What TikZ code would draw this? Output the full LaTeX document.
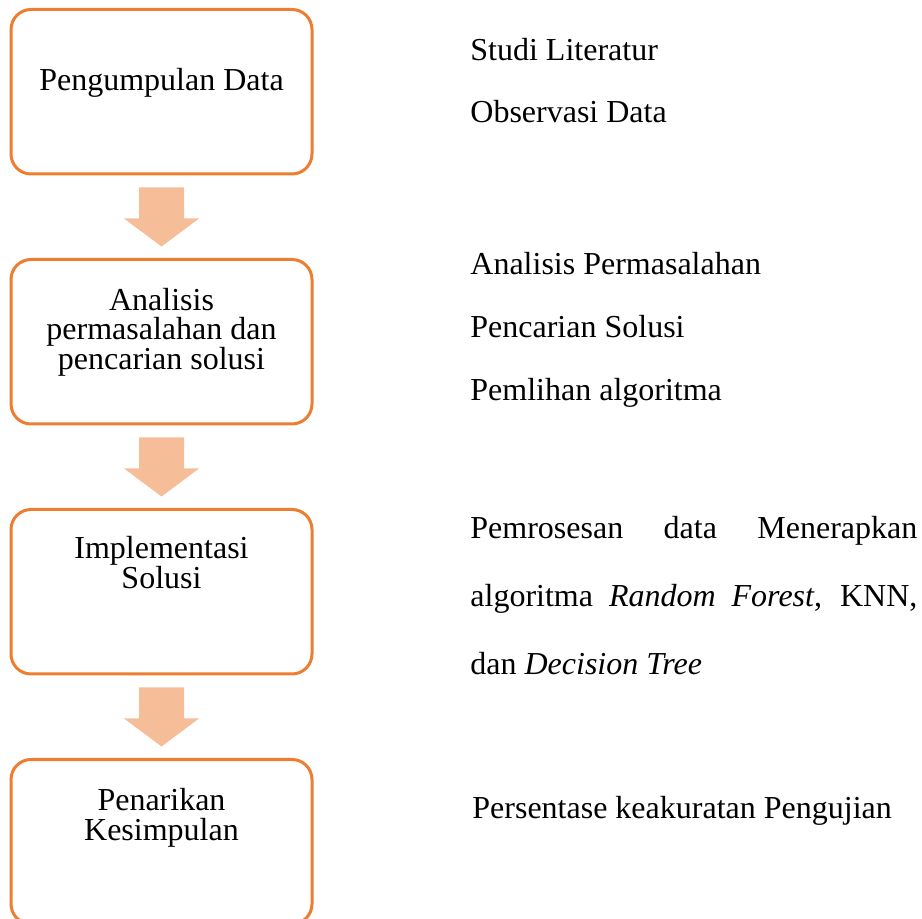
\documentclass[tikz,border=0pt]{standalone}
\usepackage{fontspec}
\setmainfont{Liberation Serif}
\usetikzlibrary{calc}
\definecolor{oranye}{HTML}{ED7D31}
\definecolor{persik}{HTML}{F5BE98}

\begin{document}
\begin{tikzpicture}[x=0.5pt, y=-0.5pt,
  kotak/.style={draw=oranye, line width=1.5pt, rounded corners=10pt,
    minimum width=150.5pt, minimum height=82.25pt, inner sep=0pt},
  isi/.style={anchor=base, align=center, inner sep=0pt,
    font=\fontsize{16}{14.75}\selectfont},
  ket/.style={anchor=base west, inner sep=0pt,
    font=\fontsize{16}{31.5}\selectfont}]
  \useasboundingbox (0,0) rectangle (922,919);
  \clip (0,0) rectangle (922,919);
  % tahapan
  \node[kotak] (b1) at (161.5,91.75) {};
  \node[kotak] (b2) at (161.5,341.75) {};
  \node[kotak] (b3) at (161.5,591.75) {};
  \node[kotak] (b4) at (161.5,841.75) {};
  % base = baris terakhir
  \node[isi] (t1) at ($(b1.north)+(0,82.5)$) {Pengumpulan Data};
  \node[isi] (t2) at ($(b2.north)+(0,111.5)$) {Analisis\\permasalahan dan\\pencarian solusi};
  \node[isi] (t3) at ($(b3.north)+(0,80.5)$) {Implementasi\\Solusi};
  \node[isi] (t4) at ($(b4.north)+(0,82)$) {Penarikan\\Kesimpulan};
  % panah blok
  \foreach \a/\b in {b1/b2, b2/b3, b3/b4}
    \fill[persik] ($(\a.south)+(-22.5,12)$) -- ++(45,0) -- ++(0,31) -- ++(15,0)
      -- ($(\b.north)+(0,-11.5)$) -- ($(\a.south)+(-37.5,43)$) -- ++(15,0) -- cycle;
  % keterangan
  \node[ket] (k1) at (470,61) {Studi Literatur};
  \node[ket] (k2) at (470,123) {Observasi Data};
  \node[ket] (k3) at (470,275) {Analisis Permasalahan};
  \node[ket] (k4) at (470,338) {Pencarian Solusi};
  \node[ket] (k5) at (470,401) {Pemlihan algoritma};
  \node[ket, text width=223.5pt, align=justify,
    font=\fontsize{16}{34}\selectfont] (k6) at (470,539)
    {Pemrosesan data Menerapkan\linebreak algoritma \textit{Random Forest}, KNN,\linebreak dan \textit{Decision Tree}};
  \node[ket] (k7) at (472,819) {Persentase keakuratan Pengujian};
\end{tikzpicture}
\end{document}
